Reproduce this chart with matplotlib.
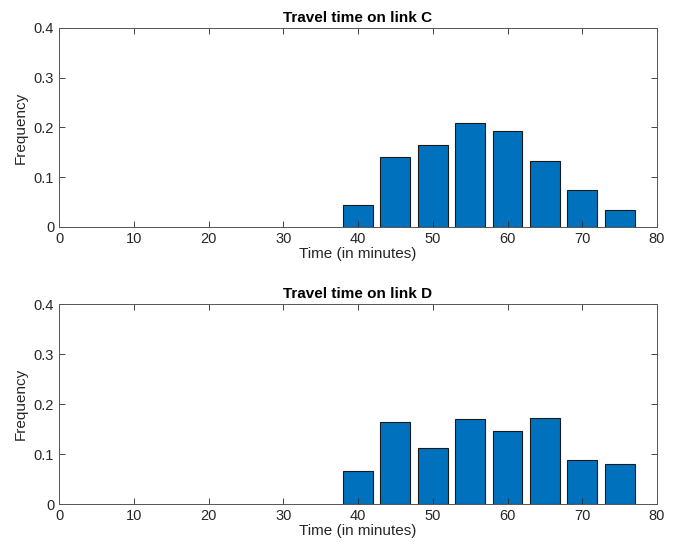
import numpy as np
import matplotlib.pyplot as plt

# bin centers (minutes) and relative frequencies
times = [40, 45, 50, 55, 60, 65, 70, 75]
freq_c = [0.044, 0.140, 0.165, 0.209, 0.192, 0.133, 0.074, 0.035]
freq_d = [0.067, 0.165, 0.113, 0.171, 0.146, 0.172, 0.089, 0.081]

plt.rcParams['font.family'] = ['Liberation Sans', 'DejaVu Sans']

BAR_COLOR = '#0072BD'
AX_COLOR = '#262626'


def draw_hist(ax, x, y, title):
    ax.bar(x, y, width=4, color=BAR_COLOR, edgecolor='#1a1a1a', linewidth=0.8)
    ax.set_xlim(0, 80)
    ax.set_ylim(0, 0.4)
    ax.set_xticks(np.arange(0, 81, 10))
    ax.set_yticks([0, 0.1, 0.2, 0.3, 0.4])
    ax.set_yticklabels(['0', '0.1', '0.2', '0.3', '0.4'])
    ax.tick_params(direction='in', top=True, right=True, length=4, width=0.6,
                   colors=AX_COLOR, labelsize=10.5)
    for s in ax.spines.values():
        s.set_color('#555555')
        s.set_linewidth(0.7)
    ax.set_xlabel('Time (in minutes)', fontsize=11, color=AX_COLOR, labelpad=1)
    ax.set_ylabel('Frequency', fontsize=11, color=AX_COLOR)
    ax.set_title(title, fontsize=11, fontweight='bold', color='black', pad=4)


fig = plt.figure(figsize=(6.73, 5.5), dpi=100)
ax1 = fig.add_axes([0.0877, 0.5873, 0.8886, 0.3618])
ax2 = fig.add_axes([0.0877, 0.0836, 0.8886, 0.3636])

draw_hist(ax1, times, freq_c, 'Travel time on link C')
draw_hist(ax2, times, freq_d, 'Travel time on link D')

fig.savefig('out.png', dpi=100)
